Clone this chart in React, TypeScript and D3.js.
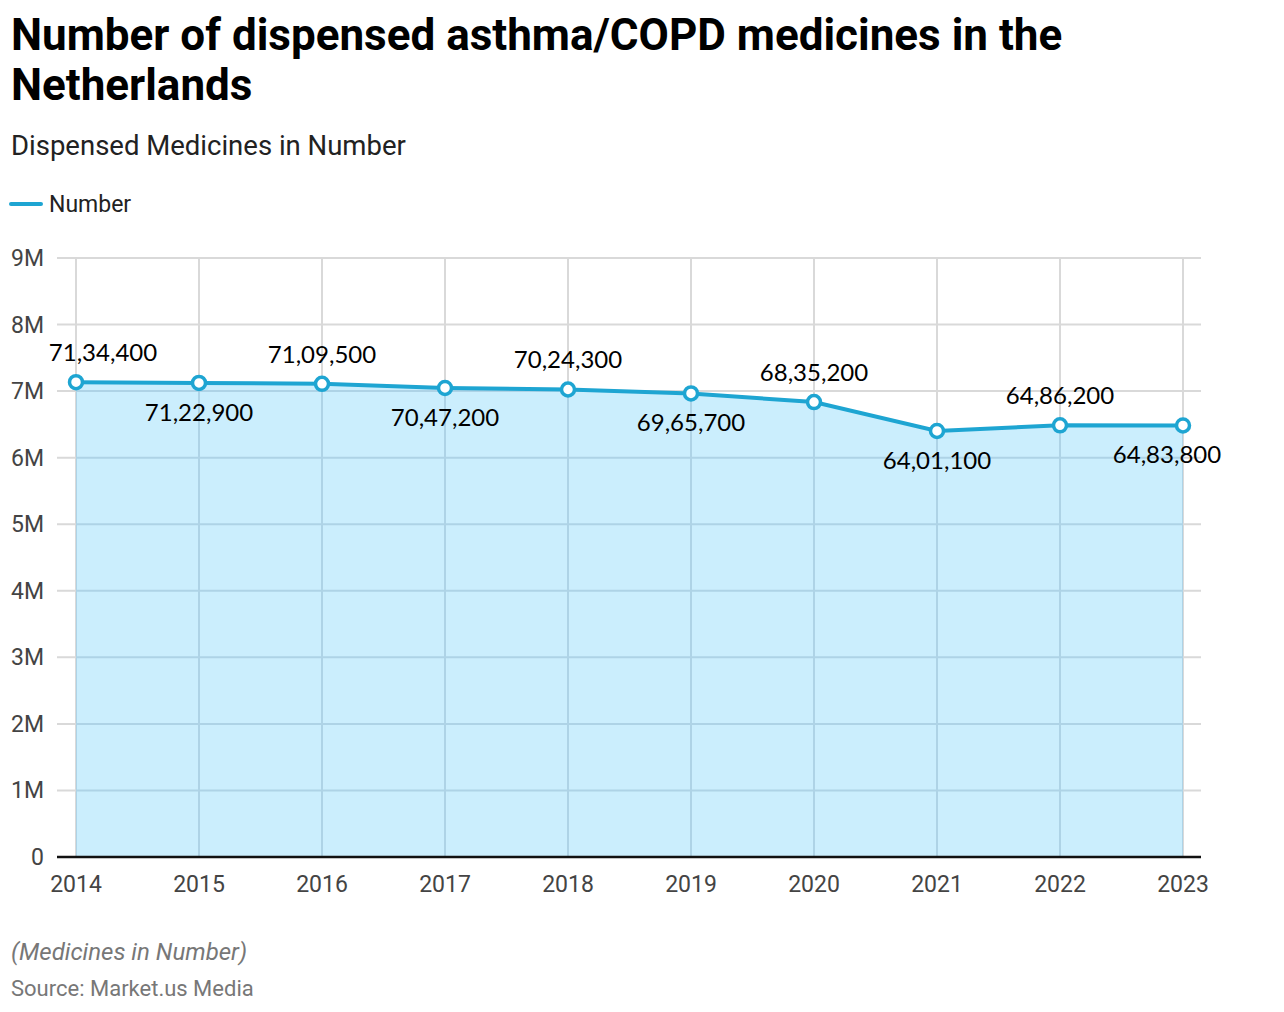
import React from "react";
import * as d3 from "d3";

const years = [2014, 2015, 2016, 2017, 2018, 2019, 2020, 2021, 2022, 2023];
const values = [7134400, 7122900, 7109500, 7047200, 7024300, 6965700, 6835200, 6401100, 6486200, 6483800];
const labels = ["71,34,400", "71,22,900", "71,09,500", "70,47,200", "70,24,300", "69,65,700", "68,35,200", "64,01,100", "64,86,200", "64,83,800"];
const labelAbove = [true, false, true, false, true, false, true, false, true, false];
const yTicks = [0, 1e6, 2e6, 3e6, 4e6, 5e6, 6e6, 7e6, 8e6, 9e6];

export default function App() {
  const W = 1284, H = 1012;
  const x = d3.scalePoint<number>().domain(years).range([76, 1183]);
  const y = d3.scaleLinear().domain([0, 9e6]).range([857, 258]);
  const gridLeft = 57, gridRight = 1201;
  const area = d3.area<number>().x((_, i) => x(years[i])!).y0(y(0)).y1((d) => y(d));
  const line = d3.line<number>().x((_, i) => x(years[i])!).y((d) => y(d));
  const roboto = "Roboto, 'Noto Sans', sans-serif";
  const lblFont = "Lato, 'Open Sans', sans-serif";
  const areaD = area(values)!;
  const grid = (stroke: string) => (
    <g>
      {yTicks.filter((t) => t > 0).map((t) => (
        <line key={"h" + t} x1={gridLeft} x2={gridRight} y1={y(t)} y2={y(t)} stroke={stroke} strokeWidth={2} />
      ))}
      {years.map((yr) => (
        <line key={"v" + yr} x1={x(yr)} x2={x(yr)} y1={258} y2={857} stroke={stroke} strokeWidth={2} />
      ))}
    </g>
  );
  return (
    <svg width={W} height={H} style={{ position: "absolute", left: 0, top: 0, background: "#fff" }}>
      <defs>
        <clipPath id="areaClip">
          <path d={areaD} />
        </clipPath>
      </defs>
      <text x={11} y={50} fontFamily={roboto} fontWeight={700} fontSize={44} fill="#000">Number of dispensed asthma/COPD medicines in the</text>
      <text x={11} y={100} fontFamily={roboto} fontWeight={700} fontSize={44} fill="#000">Netherlands</text>
      <text x={11} y={155} fontFamily={roboto} fontSize={27.5} fill="#222">Dispensed Medicines in Number</text>
      <line x1={11} x2={41} y1={204} y2={204} stroke="#1ea5d2" strokeWidth={4} strokeLinecap="round" />
      <text x={49} y={212} fontFamily={roboto} fontSize={23} fill="#222">Number</text>
      {grid("#d9d9d9")}
      <path d={areaD} fill="#cbeefd" />
      <g clipPath="url(#areaClip)">{grid("#aed3e6")}</g>
      {yTicks.map((t) => (
        <text key={t} x={44} y={y(t) + 8} textAnchor="end" fontFamily={roboto} fontSize={23} fill="#444">{t === 0 ? "0" : `${t / 1e6}M`}</text>
      ))}
      <line x1={gridLeft} x2={gridRight} y1={857} y2={857} stroke="#111" strokeWidth={2.5} />
      <path d={line(values)!} fill="none" stroke="#1ea5d2" strokeWidth={4} />
      {values.map((v, i) => (
        <circle key={i} cx={x(years[i])} cy={y(v)} r={6.5} fill="#fff" stroke="#1ea5d2" strokeWidth={3.5} />
      ))}
      {values.map((v, i) => {
        const px = x(years[i])!;
        const cx = Math.max(103, Math.min(1167, px));
        return (
          <text key={i} x={cx} y={labelAbove[i] ? y(v) - 21 : y(v) + 38} textAnchor="middle" fontFamily={lblFont} fontSize={24} fill="#000">{labels[i]}</text>
        );
      })}
      {years.map((yr) => (
        <text key={yr} x={x(yr)} y={892} textAnchor="middle" fontFamily={roboto} fontSize={23} fill="#444">{yr}</text>
      ))}
      <text x={11} y={960} fontFamily={roboto} fontStyle="italic" fontSize={24} fill="#777">(Medicines in Number)</text>
      <text x={11} y={996} fontFamily={roboto} fontSize={22} fill="#777">Source: Market.us Media</text>
    </svg>
  );
}
